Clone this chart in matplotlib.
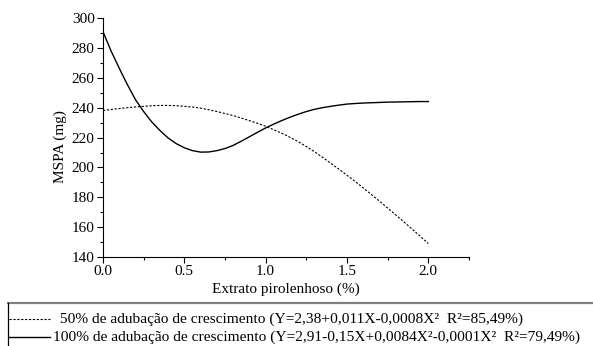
import numpy as np
import matplotlib
matplotlib.use("Agg")
import matplotlib.pyplot as plt
from matplotlib.lines import Line2D
from matplotlib.ticker import MultipleLocator, FormatStrFormatter

# valores (passo 0,05)
extrato = [0.00, 0.05, 0.10, 0.15, 0.20, 0.25, 0.30, 0.35, 0.40, 0.45, 0.50,
           0.55, 0.60, 0.65, 0.70, 0.75, 0.80, 0.85, 0.90, 0.95, 1.00,
           1.05, 1.10, 1.15, 1.20, 1.25, 1.30, 1.35, 1.40, 1.45, 1.50,
           1.55, 1.60, 1.65, 1.70, 1.75, 1.80, 1.85, 1.90, 1.95, 2.00]
mspa_50 = [238.2, 238.9, 239.5, 240.1, 240.6, 241.0, 241.4, 241.6, 241.6, 241.4, 241.0,
           240.5, 239.8, 238.7, 237.5, 236.2, 234.8, 233.1, 231.4, 229.6, 227.6,
           225.3, 222.9, 220.2, 217.3, 214.0, 210.6, 206.8, 202.8, 198.9, 194.8,
           190.6, 186.3, 181.9, 177.4, 172.8, 168.2, 163.5, 158.7, 153.9, 149.0]
mspa_100 = [291.0, 278.0, 266.5, 255.5, 245.4, 237.5, 230.5, 224.8, 219.8, 216.0, 213.2,
            211.3, 210.3, 210.4, 211.3, 212.7, 214.8, 217.6, 220.6, 223.6, 226.5,
            229.1, 231.5, 233.7, 235.7, 237.5, 239.0, 240.1, 241.0, 241.8, 242.5,
            242.9, 243.2, 243.4, 243.6, 243.8, 243.9, 244.0, 244.1, 244.2, 244.2]

legenda_50 = "50% de adubação de crescimento (Y=2,38+0,011X-0,0008X²  R²=85,49%)"
legenda_100 = "100% de adubação de crescimento (Y=2,91-0,15X+0,0084X²-0,0001X²  R²=79,49%)"

plt.rcParams['font.family'] = ['Liberation Serif', 'DejaVu Serif']
plt.rcParams['font.size'] = 11

W, H = 593, 346
fig = plt.figure(figsize=(W / 100, H / 100), dpi=100)
ax = fig.add_axes([103 / W, 1 - 257 / H, 366 / W, (257 - 18.3) / H])

ax.plot(extrato, mspa_50, color='black', lw=0.8, dashes=(2, 1.5))
ax.plot(extrato, mspa_100, color='black', lw=1.0)

ax.set_xlim(0, 2.25)
ax.set_ylim(140, 300)
ax.xaxis.set_major_locator(MultipleLocator(0.5))
ax.xaxis.set_minor_locator(MultipleLocator(0.25))
ax.yaxis.set_major_locator(MultipleLocator(20))
ax.yaxis.set_minor_locator(MultipleLocator(10))
ax.xaxis.set_major_formatter(FormatStrFormatter('%.1f'))
ax.tick_params(which='major', length=4, width=0.8, pad=2)
ax.tick_params(which='minor', length=2.5, width=0.8)
ax.spines['top'].set_visible(False)
ax.spines['right'].set_visible(False)

fig.text(286 / W, 1 - 289 / H, "Extrato pirolenhoso (%)", ha='center', va='center')
fig.text(60 / W, 1 - 147 / H, "MSPA (mg)", ha='center', va='center', rotation=90)

# caixa da legenda
fig.add_artist(Line2D([8 / W, 1.02], [1 - 303 / H] * 2, color='#808080', lw=1.6))
fig.add_artist(Line2D([8 / W] * 2, [1 - 303 / H, -0.02], color='black', lw=0.9))

y1, y2 = 1 - 319 / H, 1 - 337 / H
fig.add_artist(Line2D([9 / W, 50 / W], [y1] * 2, color='black', lw=0.8, dashes=(2, 1.5)))
fig.add_artist(Line2D([9 / W, 50 / W], [y2] * 2, color='black', lw=1.0))
fig.text(56 / W, y1, " " + legenda_50, ha='left', va='center', fontsize=11.1)
fig.text(53 / W, y2, legenda_100, ha='left', va='center', fontsize=11.1)

plt.savefig("out.png", dpi=100)
